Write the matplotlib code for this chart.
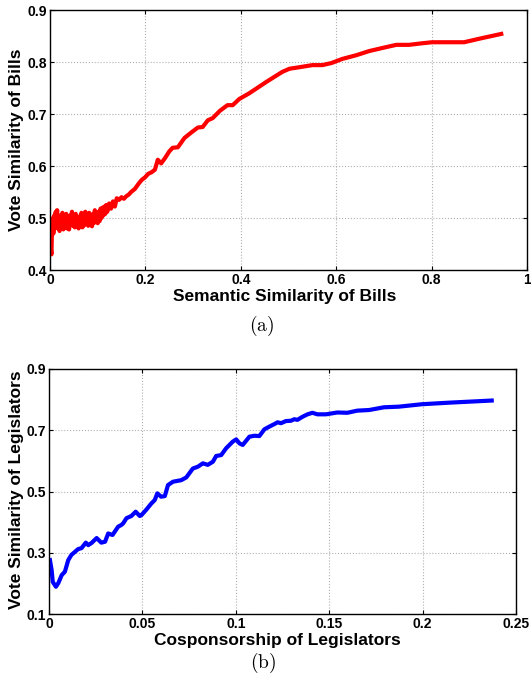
import matplotlib
matplotlib.use('Agg')
import matplotlib.pyplot as plt

plt.rcParams['font.family'] = ['Liberation Sans', 'DejaVu Sans']
plt.rcParams['mathtext.fontset'] = 'cm'

# (a) semantic similarity of bills vs vote similarity
sem_x = [0.000, 0.002, 0.003, 0.004, 0.006, 0.007, 0.009, 0.010, 0.012, 0.013,
         0.015, 0.016, 0.018, 0.020, 0.022, 0.024, 0.026, 0.028, 0.030, 0.032,
         0.034, 0.036, 0.038, 0.040, 0.042, 0.044, 0.046, 0.048, 0.050, 0.052,
         0.054, 0.056, 0.058, 0.060, 0.062, 0.064, 0.066, 0.068, 0.070, 0.072,
         0.074, 0.076, 0.078, 0.080, 0.082, 0.084, 0.086, 0.088, 0.090, 0.092,
         0.094, 0.096, 0.098, 0.100, 0.102, 0.104, 0.106, 0.108, 0.110, 0.112,
         0.114, 0.116, 0.118, 0.120, 0.124, 0.128, 0.132, 0.136, 0.140, 0.145,
         0.150, 0.155, 0.160, 0.165, 0.170, 0.178, 0.185, 0.192, 0.199, 0.206,
         0.213, 0.220, 0.226, 0.233, 0.241, 0.250, 0.257, 0.268, 0.282, 0.297,
         0.310, 0.320, 0.331, 0.341, 0.356, 0.372, 0.383, 0.397, 0.418, 0.454,
         0.487, 0.502, 0.523, 0.550, 0.571, 0.590, 0.613, 0.642, 0.669, 0.697,
         0.726, 0.753, 0.780, 0.801, 0.868, 0.906, 0.946]
sem_y = [0.480, 0.440, 0.430, 0.470, 0.500, 0.470, 0.505, 0.480, 0.512, 0.490,
         0.515, 0.480, 0.505, 0.475, 0.500, 0.485, 0.510, 0.478, 0.502, 0.485,
         0.508, 0.480, 0.498, 0.478, 0.505, 0.488, 0.512, 0.485, 0.500, 0.482,
         0.508, 0.490, 0.503, 0.480, 0.498, 0.488, 0.510, 0.482, 0.497, 0.486,
         0.512, 0.490, 0.505, 0.485, 0.510, 0.492, 0.502, 0.484, 0.508, 0.490,
         0.515, 0.495, 0.510, 0.490, 0.512, 0.494, 0.518, 0.500, 0.520, 0.505,
         0.522, 0.508, 0.525, 0.512, 0.528, 0.518, 0.532, 0.522, 0.538, 0.535,
         0.540, 0.537, 0.542, 0.545, 0.550, 0.556, 0.565, 0.573, 0.578, 0.585,
         0.588, 0.593, 0.612, 0.605, 0.615, 0.628, 0.635, 0.636, 0.654, 0.665,
         0.674, 0.675, 0.688, 0.692, 0.706, 0.717, 0.717, 0.729, 0.740, 0.762,
         0.781, 0.787, 0.790, 0.794, 0.794, 0.798, 0.806, 0.813, 0.821, 0.827,
         0.833, 0.833, 0.836, 0.838, 0.838, 0.846, 0.854]

# (b) cosponsorship of legislators vs vote similarity
cos_x = [0.0005, 0.0014, 0.0020, 0.0037, 0.0050, 0.0068, 0.0085, 0.0103, 0.0120, 0.0139,
         0.0156, 0.0174, 0.0183, 0.0197, 0.0210, 0.0228, 0.0255, 0.0280, 0.0300, 0.0317,
         0.0340, 0.0370, 0.0388, 0.0397, 0.0415, 0.0441, 0.0464, 0.0486, 0.0495, 0.0520,
         0.0548, 0.0566, 0.0580, 0.0600, 0.0620, 0.0637, 0.0664, 0.0708, 0.0735, 0.0770,
         0.0797, 0.0824, 0.0850, 0.0877, 0.0895, 0.0922, 0.0948, 0.0984, 0.1002, 0.1020,
         0.1037, 0.1073, 0.1100, 0.1126, 0.1153, 0.1180, 0.1206, 0.1224, 0.1242, 0.1268,
         0.1295, 0.1313, 0.1330, 0.1357, 0.1384, 0.1410, 0.1437, 0.1482, 0.1544, 0.1597,
         0.1650, 0.1713, 0.1793, 0.1873, 0.1997, 0.2140, 0.2370]
cos_y = [0.276, 0.244, 0.205, 0.189, 0.201, 0.227, 0.238, 0.276, 0.293, 0.303,
         0.312, 0.315, 0.322, 0.333, 0.325, 0.332, 0.348, 0.333, 0.336, 0.363,
         0.358, 0.385, 0.391, 0.396, 0.413, 0.420, 0.434, 0.420, 0.423, 0.440,
         0.461, 0.472, 0.494, 0.483, 0.485, 0.521, 0.532, 0.537, 0.546, 0.575,
         0.581, 0.592, 0.587, 0.597, 0.616, 0.619, 0.641, 0.663, 0.670, 0.657,
         0.652, 0.679, 0.682, 0.681, 0.703, 0.712, 0.720, 0.726, 0.723, 0.730,
         0.731, 0.736, 0.734, 0.744, 0.752, 0.757, 0.752, 0.752, 0.758, 0.757,
         0.764, 0.766, 0.775, 0.777, 0.785, 0.790, 0.797]

fig = plt.figure(figsize=(5.31, 6.88), dpi=100)
W, H = 531.0, 688.0


def setup(ax, xticks, xlabels, yticks):
    ax.set_xticks(xticks)
    ax.set_xticklabels(xlabels)
    ax.set_yticks(yticks)
    ax.set_yticklabels([('%g' % t) for t in yticks])
    ax.tick_params(direction='in', top=True, right=True, length=3, width=0.8,
                   labelsize=10, pad=2.5)
    for lab in ax.get_xticklabels() + ax.get_yticklabels():
        lab.set_fontweight('bold')
    ax.grid(True, linestyle=':', color='#b0b0b0', linewidth=0.8)
    for s in ax.spines.values():
        s.set_linewidth(1.0)


ax1 = fig.add_axes([50 / W, 1 - 270 / H, 477 / W, 260 / H])
ax1.plot(sem_x, sem_y, color='red', linewidth=3)
ax1.set_xlim(0, 1)
ax1.set_ylim(0.4, 0.9)
setup(ax1, [0, 0.2, 0.4, 0.6, 0.8, 1], ['0', '0.2', '0.4', '0.6', '0.8', '1'],
      [0.4, 0.5, 0.6, 0.7, 0.8, 0.9])

ax2 = fig.add_axes([49 / W, 1 - 614 / H, 467 / W, 245 / H])
ax2.plot(cos_x, cos_y, color='blue', linewidth=3)
ax2.set_xlim(0, 0.25)
ax2.set_ylim(0.1, 0.9)
setup(ax2, [0, 0.05, 0.1, 0.15, 0.2, 0.25], ['0', '0.05', '0.1', '0.15', '0.2', '0.25'],
      [0.1, 0.3, 0.5, 0.7, 0.9])

fig.text(285 / W, 1 - 297 / H, 'Semantic Similarity of Bills', ha='center', va='center',
         fontsize=12.5, fontweight='bold')
fig.text(17 / W, 1 - 140 / H, 'Vote Similarity of Bills', ha='center', va='center',
         rotation=90, fontsize=12.5, fontweight='bold')
fig.text(277 / W, 1 - 640 / H, 'Cosponsorship of Legislators', ha='center', va='center',
         fontsize=12.5, fontweight='bold')
fig.text(17 / W, 1 - 490 / H, 'Vote Similarity of Legislators', ha='center', va='center',
         rotation=90, fontsize=12.5, fontweight='bold')
fig.text(262 / W, 1 - 326 / H, r'$(\mathrm{a})$', ha='center', va='center', fontsize=14)
fig.text(263 / W, 1 - 663 / H, r'$(\mathrm{b})$', ha='center', va='center', fontsize=14)

fig.savefig('out.png', dpi=100)
